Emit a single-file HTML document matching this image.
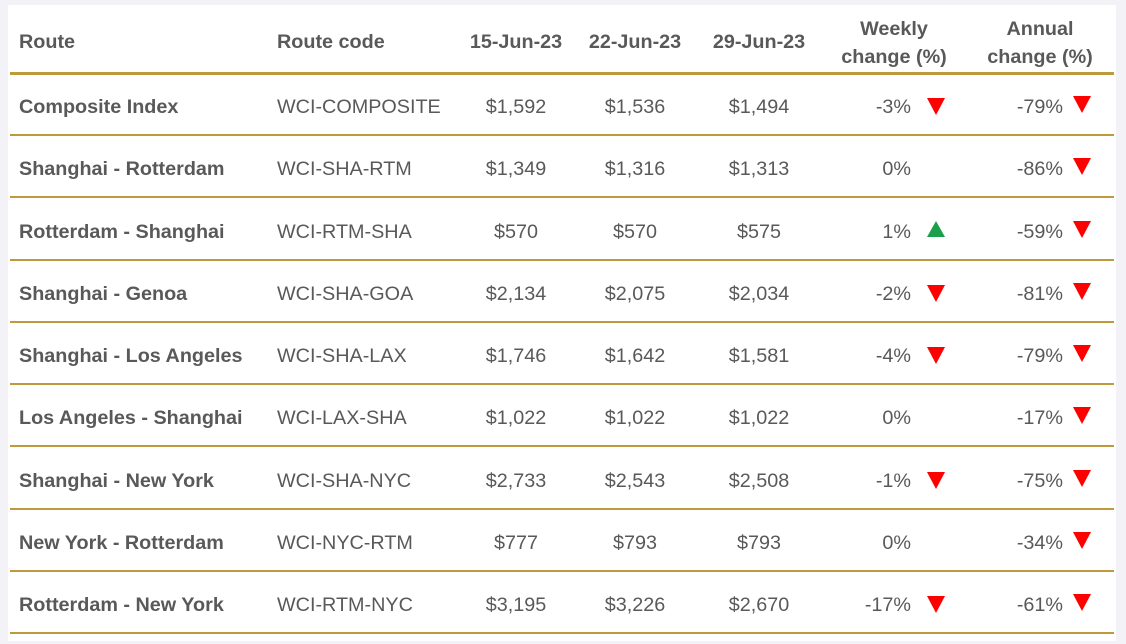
<!DOCTYPE html>
<html><head><meta charset="utf-8"><style>
body{margin:0;background:#f2f2f7;width:1126px;height:644px;position:relative;font-family:"Liberation Sans",Arial,sans-serif;color:#595959;overflow:hidden}
#w{position:absolute;left:8px;top:5px;width:1108px;height:636px;background:#fff}
.t{position:absolute;font-size:19.8px;white-space:nowrap;line-height:22px}
.b{font-weight:bold}
.c{text-align:center;width:140px}
.r{text-align:right;width:100px}
.ln{position:absolute;left:10px;width:1104px;height:2px;background:#bf9a3c}
.dn{position:absolute;width:0;height:0;border-left:9px solid transparent;border-right:9px solid transparent;border-top:17px solid #ff0000}
.up{position:absolute;width:0;height:0;border-left:9px solid transparent;border-right:9px solid transparent;border-bottom:16px solid #1aa04a}
</style></head><body><div id="w"></div>
<div class="t b" style="left:19px;top:31px">Route</div>
<div class="t b" style="left:277px;top:31px">Route code</div>
<div class="t b c" style="left:446px;top:31px">15-Jun-23</div>
<div class="t b c" style="left:565px;top:31px">22-Jun-23</div>
<div class="t b c" style="left:689px;top:31px">29-Jun-23</div>
<div class="t b c" style="left:824px;top:15px;line-height:28px">Weekly<br>change (%)</div>
<div class="t b c" style="left:970px;top:15px;line-height:28px">Annual<br>change (%)</div>
<div class="ln" style="top:72px;height:3px"></div>
<div id="rows"></div>
<script>
var d=[["Composite Index","WCI-COMPOSITE","$1,592","$1,536","$1,494","-3%","d","-79%"],
["Shanghai - Rotterdam","WCI-SHA-RTM","$1,349","$1,316","$1,313","0%","","-86%"],
["Rotterdam - Shanghai","WCI-RTM-SHA","$570","$570","$575","1%","u","-59%"],
["Shanghai - Genoa","WCI-SHA-GOA","$2,134","$2,075","$2,034","-2%","d","-81%"],
["Shanghai - Los Angeles","WCI-SHA-LAX","$1,746","$1,642","$1,581","-4%","d","-79%"],
["Los Angeles - Shanghai","WCI-LAX-SHA","$1,022","$1,022","$1,022","0%","","-17%"],
["Shanghai - New York","WCI-SHA-NYC","$2,733","$2,543","$2,508","-1%","d","-75%"],
["New York - Rotterdam","WCI-NYC-RTM","$777","$793","$793","0%","","-34%"],
["Rotterdam - New York","WCI-RTM-NYC","$3,195","$3,226","$2,670","-17%","d","-61%"]];
var h="";
d.forEach(function(r,i){var y=Math.round(105+i*62.25);var ty=y-9;
h+='<div class="t b" style="left:19px;top:'+ty+'px">'+r[0]+'</div>';
h+='<div class="t" style="left:277px;top:'+ty+'px">'+r[1]+'</div>';
h+='<div class="t c" style="left:446px;top:'+ty+'px">'+r[2]+'</div>';
h+='<div class="t c" style="left:565px;top:'+ty+'px">'+r[3]+'</div>';
h+='<div class="t c" style="left:689px;top:'+ty+'px">'+r[4]+'</div>';
h+='<div class="t r" style="left:811px;top:'+ty+'px">'+r[5]+'</div>';
h+='<div class="t r" style="left:963px;top:'+ty+'px">'+r[7]+'</div>';
if(r[6]=="d")h+='<div class="dn" style="left:927px;top:'+(y-7)+'px"></div>';
if(r[6]=="u")h+='<div class="up" style="left:927px;top:'+(y-9)+'px"></div>';
h+='<div class="dn" style="left:1073px;top:'+(y-9)+'px"></div>';
h+='<div class="ln" style="top:'+(y+29)+'px"></div>';});
document.getElementById("rows").innerHTML=h;
</script></body></html>
